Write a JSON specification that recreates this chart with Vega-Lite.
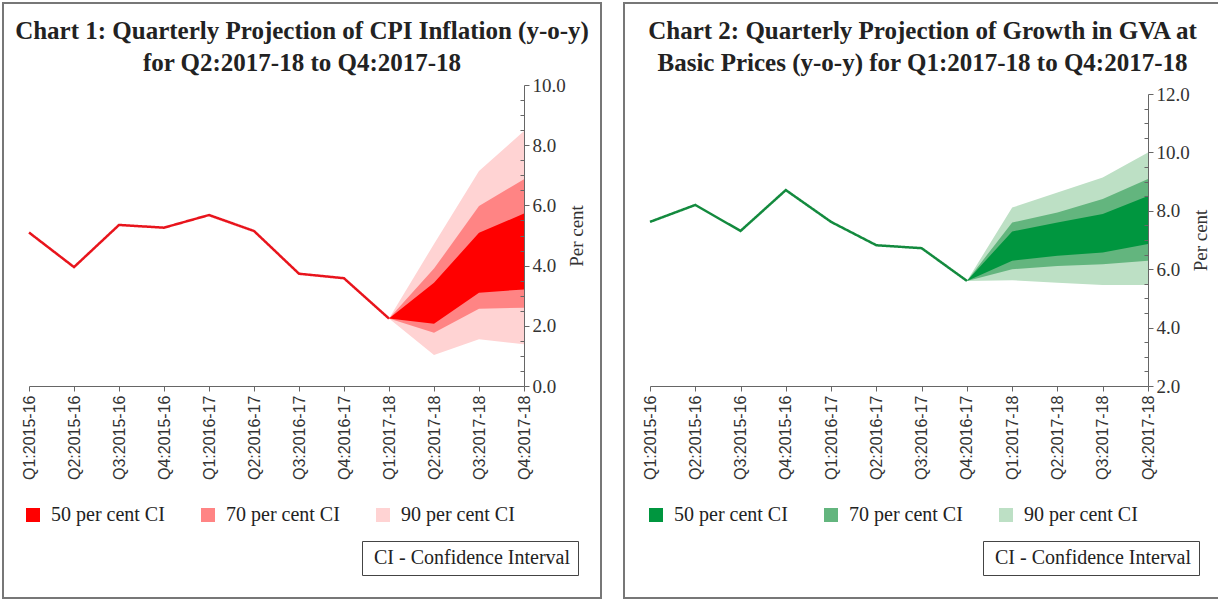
{
  "$schema": "https://vega.github.io/schema/vega-lite/v6.json",
  "padding": {"left": 2, "top": 2, "right": 0, "bottom": 0},
  "spacing": 21,
  "config": {
    "font": "Liberation Serif",
    "view": {"stroke": "#777", "strokeWidth": 2},
    "background": "white"
  },
  "datasets": {
    "cpiLine": [
      {"q": "Q1:2015-16", "v": 5.1}, {"q": "Q2:2015-16", "v": 3.95}, {"q": "Q3:2015-16", "v": 5.35},
      {"q": "Q4:2015-16", "v": 5.26}, {"q": "Q1:2016-17", "v": 5.68}, {"q": "Q2:2016-17", "v": 5.15},
      {"q": "Q3:2016-17", "v": 3.73}, {"q": "Q4:2016-17", "v": 3.58}, {"q": "Q1:2017-18", "v": 2.24}
    ],
    "cpiFan": [
      {"q": "Q1:2017-18", "band": "90 per cent CI", "lo": 2.24, "hi": 2.24},
      {"q": "Q2:2017-18", "band": "90 per cent CI", "lo": 1.03, "hi": 4.72},
      {"q": "Q3:2017-18", "band": "90 per cent CI", "lo": 1.55, "hi": 7.14},
      {"q": "Q4:2017-18", "band": "90 per cent CI", "lo": 1.39, "hi": 8.47},
      {"q": "Q1:2017-18", "band": "70 per cent CI", "lo": 2.24, "hi": 2.24},
      {"q": "Q2:2017-18", "band": "70 per cent CI", "lo": 1.77, "hi": 3.9},
      {"q": "Q3:2017-18", "band": "70 per cent CI", "lo": 2.57, "hi": 5.98},
      {"q": "Q4:2017-18", "band": "70 per cent CI", "lo": 2.6, "hi": 6.87},
      {"q": "Q1:2017-18", "band": "50 per cent CI", "lo": 2.24, "hi": 2.24},
      {"q": "Q2:2017-18", "band": "50 per cent CI", "lo": 2.07, "hi": 3.43},
      {"q": "Q3:2017-18", "band": "50 per cent CI", "lo": 3.1, "hi": 5.09},
      {"q": "Q4:2017-18", "band": "50 per cent CI", "lo": 3.21, "hi": 5.73}
    ],
    "gvaLine": [
      {"q": "Q1:2015-16", "v": 7.62}, {"q": "Q2:2015-16", "v": 8.2}, {"q": "Q3:2015-16", "v": 7.31},
      {"q": "Q4:2015-16", "v": 8.71}, {"q": "Q1:2016-17", "v": 7.62}, {"q": "Q2:2016-17", "v": 6.82},
      {"q": "Q3:2016-17", "v": 6.72}, {"q": "Q4:2016-17", "v": 5.6}
    ],
    "gvaFan": [
      {"q": "Q4:2016-17", "band": "90 per cent CI", "lo": 5.6, "hi": 5.6},
      {"q": "Q1:2017-18", "band": "90 per cent CI", "lo": 5.62, "hi": 8.11},
      {"q": "Q2:2017-18", "band": "90 per cent CI", "lo": 5.54, "hi": 8.63},
      {"q": "Q3:2017-18", "band": "90 per cent CI", "lo": 5.46, "hi": 9.14},
      {"q": "Q4:2017-18", "band": "90 per cent CI", "lo": 5.46, "hi": 10.0},
      {"q": "Q4:2016-17", "band": "70 per cent CI", "lo": 5.6, "hi": 5.6},
      {"q": "Q1:2017-18", "band": "70 per cent CI", "lo": 6.0, "hi": 7.6},
      {"q": "Q2:2017-18", "band": "70 per cent CI", "lo": 6.11, "hi": 7.94},
      {"q": "Q3:2017-18", "band": "70 per cent CI", "lo": 6.17, "hi": 8.4},
      {"q": "Q4:2017-18", "band": "70 per cent CI", "lo": 6.29, "hi": 9.09},
      {"q": "Q4:2016-17", "band": "50 per cent CI", "lo": 5.6, "hi": 5.6},
      {"q": "Q1:2017-18", "band": "50 per cent CI", "lo": 6.29, "hi": 7.29},
      {"q": "Q2:2017-18", "band": "50 per cent CI", "lo": 6.46, "hi": 7.6},
      {"q": "Q3:2017-18", "band": "50 per cent CI", "lo": 6.57, "hi": 7.89},
      {"q": "Q4:2017-18", "band": "50 per cent CI", "lo": 6.86, "hi": 8.51}
    ]
  },
  "resolve": {
    "scale": {"x": "independent", "y": "independent", "color": "independent", "strokeDash": "independent"},
    "legend": {"color": "independent", "strokeDash": "independent"}
  },
  "hconcat": [
    {
      "width": 598,
      "height": 595,
      "title": {
        "text": ["Chart 1: Quarterly Projection of CPI Inflation (y-o-y)", "for Q2:2017-18 to Q4:2017-18"],
        "anchor": "middle", "frame": "group", "offset": -73,
        "font": "Liberation Serif", "fontSize": 25, "fontWeight": "bold", "color": "#222", "lineHeight": 32
      },
      "encoding": {
        "x": {
          "field": "q", "type": "ordinal",
          "scale": {"domain": ["Q1:2015-16","Q2:2015-16","Q3:2015-16","Q4:2015-16","Q1:2016-17","Q2:2016-17","Q3:2016-17","Q4:2016-17","Q1:2017-18","Q2:2017-18","Q3:2017-18","Q4:2017-18"], "range": [26, 521], "padding": 0},
          "axis": {"title": null, "labelAngle": -90, "offset": -212, "labelFont": "Liberation Sans", "labelFontSize": 16, "labelColor": "#333", "tickSize": 5, "domainColor": "#666", "tickColor": "#666", "labelPadding": 4, "grid": false, "zindex": 1}
        },
        "y": {"field": "lo", "type": "quantitative", "title": "Per cent",
          "scale": {"domain": [0, 10], "range": [383, 82], "nice": false, "zero": false},
          "axis": {"orient": "right", "offset": -77, "zindex": 1, "values": [0, 0.5, 1, 1.5, 2, 2.5, 3, 3.5, 4, 4.5, 5, 5.5, 6, 6.5, 7, 7.5, 8, 8.5, 9, 9.5, 10],
            "labelExpr": "datum.value % 2 == 0 ? format(datum.value, '.1f') : ''", "labelOverlap": false,
            "tickSize": {"condition": {"test": "datum.value % 2 == 0", "value": 5}, "value": -4},
            "title": "Per cent", "titleAngle": 270, "titleFontWeight": "normal", "titleFont": "Liberation Serif", "titleFontSize": 19, "titleColor": "#333", "labelFont": "Liberation Serif", "labelFontSize": 19, "labelColor": "#333", "labelPadding": 3, "titlePadding": 21, "domainColor": "#666", "tickColor": "#666", "grid": false}}
      },
      "layer": [
        {
          "data": {"name": "cpiFan"},
          "transform": [{"filter": "datum.band == '90 per cent CI'"}],
          "mark": {"type": "area", "opacity": 1},
          "encoding": {
            "y2": {"field": "hi"},
            "color": {"field": "band", "type": "nominal",
              "scale": {"domain": ["50 per cent CI", "70 per cent CI", "90 per cent CI"], "range": ["#ff0000", "#ff8484", "#ffd3d3"]},
              "legend": {"orient": "none", "legendX": 20, "legendY": 502, "direction": "horizontal", "title": null, "symbolType": "square", "symbolSize": 196, "symbolStrokeWidth": 0, "labelFont": "Liberation Serif", "labelFontSize": 20, "labelColor": "#222", "labelOffset": 8, "columnPadding": 33, "gridAlign": "all"}}
          }
        },
        {
          "data": {"name": "cpiFan"},
          "transform": [{"filter": "datum.band == '70 per cent CI'"}],
          "mark": {"type": "area", "opacity": 1},
          "encoding": {
            "y2": {"field": "hi"},
            "color": {"field": "band", "type": "nominal"}
          }
        },
        {
          "data": {"name": "cpiFan"},
          "transform": [{"filter": "datum.band == '50 per cent CI'"}],
          "mark": {"type": "area", "opacity": 1},
          "encoding": {
            "y2": {"field": "hi"},
            "color": {"field": "band", "type": "nominal"}
          }
        },
        {
          "data": {"name": "cpiLine"},
          "mark": {"type": "line", "color": "#e8141c", "strokeWidth": 2.5},
          "encoding": {
            "y": {"field": "v", "type": "quantitative", "title": "Per cent"},
            "strokeDash": {"datum": "CI - Confidence Interval", "scale": {"range": [[1, 0]]},
              "legend": {"orient": "none", "legendX": 359, "legendY": 538, "title": null, "symbolSize": 0, "symbolOpacity": 0, "symbolStrokeWidth": 0, "labelOffset": -15, "labelLimit": 400, "strokeColor": "#444", "padding": 7, "labelFont": "Liberation Serif", "labelFontSize": 20, "labelColor": "#222"}}
          }
        }
      ]
    },
    {
      "width": 597,
      "height": 595,
      "title": {
        "text": ["Chart 2: Quarterly Projection of Growth in GVA at", "Basic Prices (y-o-y) for Q1:2017-18 to Q4:2017-18"],
        "anchor": "middle", "frame": "group", "offset": -73,
        "font": "Liberation Serif", "fontSize": 25, "fontWeight": "bold", "color": "#222", "lineHeight": 32
      },
      "encoding": {
        "x": {
          "field": "q", "type": "ordinal",
          "scale": {"domain": ["Q1:2015-16","Q2:2015-16","Q3:2015-16","Q4:2015-16","Q1:2016-17","Q2:2016-17","Q3:2016-17","Q4:2016-17","Q1:2017-18","Q2:2017-18","Q3:2017-18","Q4:2017-18"], "range": [26, 524], "padding": 0},
          "axis": {"title": null, "labelAngle": -90, "offset": -212, "labelFont": "Liberation Sans", "labelFontSize": 16, "labelColor": "#333", "tickSize": 5, "domainColor": "#666", "tickColor": "#666", "labelPadding": 4, "grid": false, "zindex": 1}
        },
        "y": {"field": "lo", "type": "quantitative", "title": "Per cent",
          "scale": {"domain": [2, 12], "range": [383, 91], "nice": false, "zero": false},
          "axis": {"orient": "right", "offset": -73, "zindex": 1, "values": [2, 2.5, 3, 3.5, 4, 4.5, 5, 5.5, 6, 6.5, 7, 7.5, 8, 8.5, 9, 9.5, 10, 10.5, 11, 11.5, 12],
            "labelExpr": "datum.value % 2 == 0 ? format(datum.value, '.1f') : ''", "labelOverlap": false,
            "tickSize": {"condition": {"test": "datum.value % 2 == 0", "value": 5}, "value": -4},
            "title": "Per cent", "titleAngle": 270, "titleFontWeight": "normal", "titleFont": "Liberation Serif", "titleFontSize": 19, "titleColor": "#333", "labelFont": "Liberation Serif", "labelFontSize": 19, "labelColor": "#333", "labelPadding": 3, "titlePadding": 21, "domainColor": "#666", "tickColor": "#666", "grid": false}}
      },
      "layer": [
        {
          "data": {"name": "gvaFan"},
          "transform": [{"filter": "datum.band == '90 per cent CI'"}],
          "mark": {"type": "area", "opacity": 1},
          "encoding": {
            "y2": {"field": "hi"},
            "color": {"field": "band", "type": "nominal",
              "scale": {"domain": ["50 per cent CI", "70 per cent CI", "90 per cent CI"], "range": ["#00963f", "#63b57e", "#bde0c5"]},
              "legend": {"orient": "none", "legendX": 22, "legendY": 502, "direction": "horizontal", "title": null, "symbolType": "square", "symbolSize": 196, "symbolStrokeWidth": 0, "labelFont": "Liberation Serif", "labelFontSize": 20, "labelColor": "#222", "labelOffset": 8, "columnPadding": 33, "gridAlign": "all"}}
          }
        },
        {
          "data": {"name": "gvaFan"},
          "transform": [{"filter": "datum.band == '70 per cent CI'"}],
          "mark": {"type": "area", "opacity": 1},
          "encoding": {
            "y2": {"field": "hi"},
            "color": {"field": "band", "type": "nominal"}
          }
        },
        {
          "data": {"name": "gvaFan"},
          "transform": [{"filter": "datum.band == '50 per cent CI'"}],
          "mark": {"type": "area", "opacity": 1},
          "encoding": {
            "y2": {"field": "hi"},
            "color": {"field": "band", "type": "nominal"}
          }
        },
        {
          "data": {"name": "gvaLine"},
          "mark": {"type": "line", "color": "#138a3e", "strokeWidth": 2.5},
          "encoding": {
            "y": {"field": "v", "type": "quantitative", "title": "Per cent"},
            "strokeDash": {"datum": "CI - Confidence Interval", "scale": {"range": [[1, 0]]},
              "legend": {"orient": "none", "legendX": 359, "legendY": 538, "title": null, "symbolSize": 0, "symbolOpacity": 0, "symbolStrokeWidth": 0, "labelOffset": -15, "labelLimit": 400, "strokeColor": "#444", "padding": 7, "labelFont": "Liberation Serif", "labelFontSize": 20, "labelColor": "#222"}}
          }
        }
      ]
    }
  ]
}
